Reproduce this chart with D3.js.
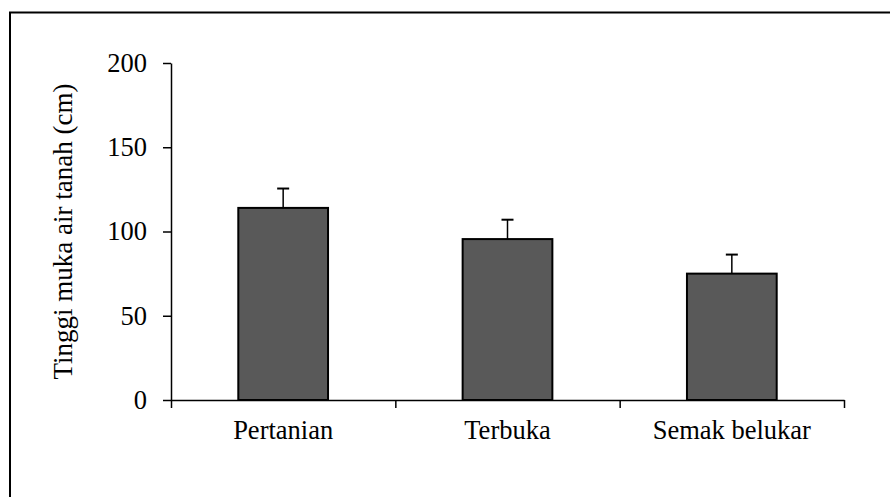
<!DOCTYPE html>
<html>
<head>
<meta charset="utf-8">
<script src="https://cdn.jsdelivr.net/npm/d3@7"></script>
<style>
  body { margin: 0; background: #fff; }
</style>
</head>
<body>
<div id="chart"></div>
<script>
const categories = ["Pertanian", "Terbuka", "Semak belukar"]
const means = [114, 95.5, 75]
const errors = [11.5, 11.5, 11.3]
const yTicks = [0, 50, 100, 150, 200]

const W = 890, H = 497
const margin = { top: 63, right: 46, bottom: 97, left: 171 }
const width = W - margin.left - margin.right
const height = H - margin.top - margin.bottom
const FONT = "'Liberation Serif', 'Times New Roman', serif"
const FS = 26.5

const svg = d3.select('#chart').append('svg').attr("width", W).attr("height", H)

// frame (runs off the right and bottom edges in the original)
svg.append('rect')
  .attr("x", 10).attr("y", 12.5)
  .attr("width", W + 20).attr("height", H + 20)
  .attr("fill", "none").attr("stroke", "#000").attr("stroke-width", 2)

const g = svg.append('g').attr("transform", `translate(${margin.left},${margin.top})`)

const x = d3.scaleBand().domain(categories).range([0, width]).paddingInner(0.6).paddingOuter(0.3)
const xEdge = d3.scaleLinear().domain([0, categories.length]).range([0, width])
const y = d3.scaleLinear().domain([0, 200]).range([height, 0])

// bars
g.selectAll('rect.bar')
  .data(categories)
  .enter()
  .append('rect')
  .attr("class", "bar")
  .attr("x", d => x(d))
  .attr("y", (d, i) => y(means[i]))
  .attr("width", x.bandwidth())
  .attr("height", (d, i) => y(0) - y(means[i]))
  .attr("fill", "#595959")
  .attr("stroke", "#000")
  .attr("stroke-width", 2)

// error bars (upper only)
const cap = 6
categories.forEach(function (c, i) {
  const cx = x(c) + x.bandwidth() / 2
  g.append('line')
    .attr("x1", cx).attr("x2", cx)
    .attr("y1", y(means[i])).attr("y2", y(means[i] + errors[i]))
    .attr("stroke", "#000").attr("stroke-width", 1.5)
  g.append('line')
    .attr("x1", cx - cap).attr("x2", cx + cap)
    .attr("y1", y(means[i] + errors[i])).attr("y2", y(means[i] + errors[i]))
    .attr("stroke", "#000").attr("stroke-width", 2)
})

// y axis
const yAxis = g.append('g')
  .call(d3.axisLeft(y).tickValues(yTicks).tickSize(8).tickSizeOuter(0).tickPadding(16))
yAxis.attr("font-family", FONT).attr("font-size", FS)
yAxis.selectAll("text").attr("fill", "#000")
yAxis.selectAll("line, path").attr("stroke", "#000").attr("stroke-width", 1.5)

// x axis: ticks at category boundaries
const xAxis = g.append('g')
  .attr("transform", `translate(0,${height})`)
  .call(d3.axisBottom(xEdge).tickValues([0, 1, 2, 3]).tickFormat("").tickSize(8).tickSizeOuter(0))
xAxis.selectAll("line, path").attr("stroke", "#000").attr("stroke-width", 1.5)

// category labels
g.selectAll('text.cat')
  .data(categories)
  .enter()
  .append('text')
  .attr("class", "cat")
  .attr("x", d => x(d) + x.bandwidth() / 2)
  .attr("y", height + 39)
  .attr("text-anchor", "middle")
  .attr("font-family", FONT)
  .attr("font-size", FS)
  .text(d => d)

// y label
svg.append('text')
  .attr("transform", `translate(72,${margin.top + height / 2}) rotate(-90)`)
  .attr("text-anchor", "middle")
  .attr("font-family", FONT)
  .attr("font-size", 27)
  .text("Tinggi muka air tanah (cm)")
</script>
</body>
</html>
